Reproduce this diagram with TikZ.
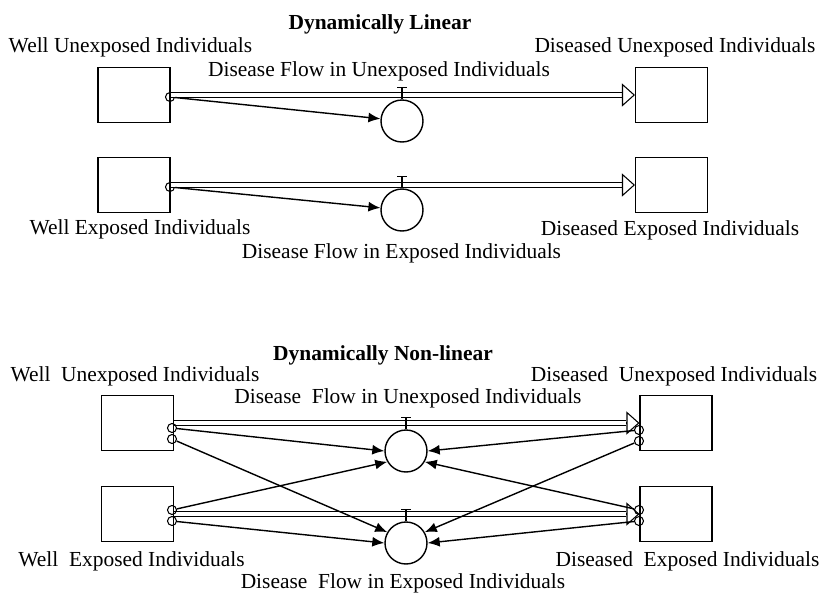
\documentclass[tikz,border=0pt]{standalone}
\usepackage{fontspec}
\setmainfont{Liberation Serif}
\usetikzlibrary{calc,positioning,arrows.meta}
\tikzstyle{stock}=[rectangle,draw,line width=0.6pt,minimum width=1.44cm,minimum height=1.1cm,inner sep=0]
\tikzstyle{valve}=[circle,draw,line width=0.8pt,minimum size=0.84cm,inner sep=0]
\tikzstyle{port}=[circle,draw,line width=0.6pt,minimum size=0.18cm,inner sep=0]
\tikzstyle{lbl}=[inner sep=0,font=\fontsize{12.2}{14}\selectfont]
\tikzstyle{ttl}=[inner sep=0,font=\fontsize{12.2}{14}\selectfont\bfseries]

\begin{document}
\begin{tikzpicture}[
    x=0.02cm, y=-0.02cm,
    pipe/.style={line width=0.6pt,double,double distance=0.08cm,shorten >=0.26cm},
    pipehead/.style={line width=0.6pt,-{Triangle[open,length=0.26cm,width=0.46cm]}},
    link/.style={line width=0.8pt,-{Latex[length=0.24cm,width=0.2cm]}}
    ]
    \useasboundingbox (0,0) rectangle (823,593);

    % dynamically linear
    \node [ttl] (ttl1) at (380,24) {Dynamically Linear};
    \node [lbl] (wulbl) at (130.5,47) {Well Unexposed Individuals};
    \node [lbl] (dulbl) at (675,47) {Diseased Unexposed Individuals};
    \node [lbl] (fulbl) at (379,71) {Disease Flow in Unexposed Individuals};
    \node [lbl] (welbl) at (140,229) {Well Exposed Individuals};
    \node [lbl] (delbl) at (670,230) {Diseased Exposed Individuals};
    \node [lbl] (felbl) at (401.5,253) {Disease Flow in Exposed Individuals};

    \node [stock] (wu) at (134,95) {};
    \node [stock] (du) at (671.5,95) {};
    \node [stock] (we) at (134,185) {};
    \node [stock] (de) at (671.5,185) {};

    \node [valve] (fu) at (402,121) {};
    \node [valve] (fe) at (402,210) {};

    \node [port] (wuo) at (170,97) {};
    \node [port] (weo) at (170,187) {};

    % flows
    \draw [pipe] (wu.east) -- (du.west);
    \draw [pipehead] ($(du.west)+(-13,0)$) -- (du.west);
    \draw [pipe] (we.east) -- (de.west);
    \draw [pipehead] ($(de.west)+(-13,0)$) -- (de.west);

    \draw [link] (wuo) -- (fu);
    \draw [link] (weo) -- (fe);

    % dynamically non-linear
    \node [ttl] (ttl2) at (383,355) {Dynamically Non-linear};
    \node [lbl] (nwulbl) at (135,376) {Well~~Unexposed Individuals};
    \node [lbl] (ndulbl) at (674,376) {Diseased~~Unexposed Individuals};
    \node [lbl] (nfulbl) at (408,398) {Disease~~Flow in Unexposed Individuals};
    \node [lbl] (nwelbl) at (131.5,561) {Well~~Exposed Individuals};
    \node [lbl] (ndelbl) at (687.5,561) {Diseased~~Exposed Individuals};
    \node [lbl] (nfelbl) at (403,583) {Disease~~Flow in Exposed Individuals};

    \node [stock] (nwu) at (137.5,423) {};
    \node [stock] (ndu) at (676,423) {};
    \node [stock] (nwe) at (137.5,514) {};
    \node [stock] (nde) at (676,514) {};

    \node [valve] (nfu) at (406,451) {};
    \node [valve] (nfe) at (406,543) {};

    \draw [pipe] (nwu.east) -- (ndu.west);
    \draw [pipehead] ($(ndu.west)+(-13,0)$) -- (ndu.west);
    \draw [pipe] (nwe.east) -- (nde.west);
    \draw [pipehead] ($(nde.west)+(-13,0)$) -- (nde.west);

    \node [port] (nwua) at (172,428) {};
    \node [port] (nwub) at (172,439) {};
    \node [port] (nwea) at (172,510) {};
    \node [port] (nweb) at (172,521) {};
    \node [port] (ndua) at (639,430) {};
    \node [port] (ndub) at (639,441) {};
    \node [port] (ndea) at (639,510) {};
    \node [port] (ndeb) at (639,521) {};

    % every stock feeds both flows
    \draw [link] (nwua) -- (nfu.180);
    \draw [link] (nwea) -- (nfu.210);
    \draw [link] (ndua) -- (nfu.0);
    \draw [link] (ndea) -- (nfu.330);
    \draw [link] (nwub) -- (nfe.150);
    \draw [link] (nweb) -- (nfe.180);
    \draw [link] (ndub) -- (nfe.30);
    \draw [link] (ndeb) -- (nfe.0);

    % valve handles
    \foreach \v in {fu,fe,nfu,nfe} {
      \draw [line width=0.6pt] (\v.north) -- ++(0,-12) ++(-5,0) -- ++(10,0);
    }
\end{tikzpicture}
\end{document}
